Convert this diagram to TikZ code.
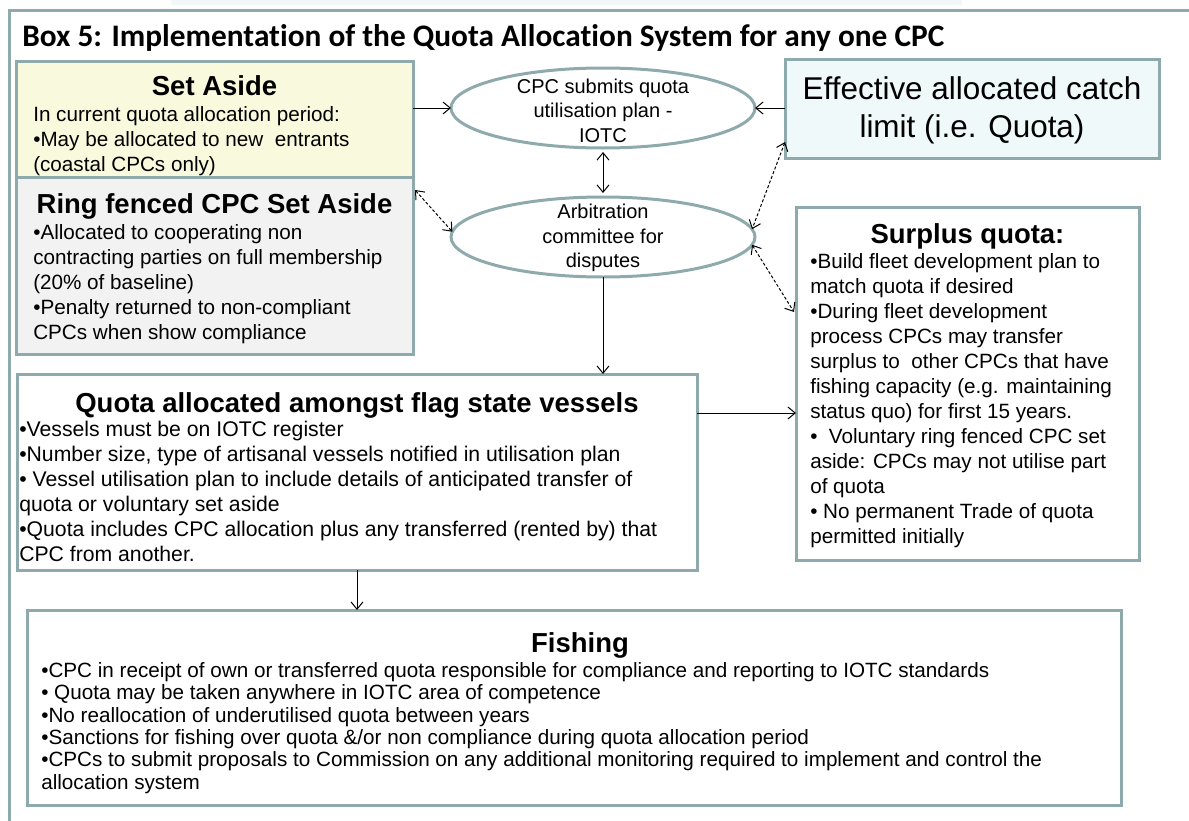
\documentclass[tikz,border=0pt]{standalone}
\usepackage{fontspec}
\setmainfont{Liberation Sans}
\newfontfamily\titlefont[Ligatures=NoCommon]{Carlito}
\usetikzlibrary{arrows.meta,shapes.geometric,calc}
\definecolor{framec}{RGB}{143,170,172}
\definecolor{yelc}{RGB}{249,249,221}
\definecolor{gryc}{RGB}{242,242,242}
\definecolor{cync}{RGB}{240,249,249}
\definecolor{stripc}{RGB}{240,248,248}
\tikzset{
 sz/.style 2 args={minimum width=#1*0.75pt, minimum height=#2*0.75pt},
 panel/.style={draw=framec, line width=2.25pt, rectangle, inner sep=0pt, outer sep=0pt, anchor=north west},
 plan/.style={draw=framec, line width=2.25pt, ellipse, inner sep=0pt, outer sep=0pt, minimum width=304*0.75pt, minimum height=80*0.75pt, fill=white},
 ttl/.style={font=\bfseries\fontsize{20.6pt}{24pt}\selectfont, inner sep=0pt, anchor=base},
 body/.style={font=\fontsize{15.5pt}{18.75pt}\selectfont, align=left, inner sep=0pt, anchor=north west},
 etext/.style={font=\fontsize{15pt}{18.4pt}\selectfont, align=center, inner sep=0pt},
 arr/.style={line width=0.75pt, -{Straight Barb[length=5.5pt,width=9pt]}},
 darr/.style={line width=0.75pt, {Straight Barb[length=5.5pt,width=9pt]}-{Straight Barb[length=5.5pt,width=9pt]}},
 ddarr/.style={darr, dash pattern=on 2.25pt off 1.5pt},
}
\begin{document}
\begin{tikzpicture}[x=0.75pt,y=-0.75pt]
\useasboundingbox (0,0) rectangle (1189,821);
\clip (0,0) rectangle (1189,821);
\fill[white] (0,0) rectangle (1189,821);
\fill[stripc] (171,0) rectangle (962,5);
\draw[framec, line width=2.25pt] (9,10) rectangle (1250,900);

\node[anchor=base west, font=\titlefont\bfseries\fontsize{23.5pt}{28pt}\selectfont, inner sep=0pt] (title) at (22,46) {Box 5: Implementation of the Quota Allocation System for any one CPC};

% Set Aside
\node[panel, fill=yelc, sz={397}{116}] (setaside) at (16,61) {};
\node[ttl] (satitle) at (214.5,95) {Set Aside};
\node[body] (sabody) at (33,106) {In current quota allocation period:\\•May be allocated to new\ \ entrants\\(coastal CPCs only)};

% Ring fenced
\node[panel, fill=gryc, sz={397}{177}] (ring) at (16,177) {};
\node[ttl] (ringtitle) at (214.5,213) {Ring fenced CPC Set Aside};
\node[body] (ringbody) at (33,224) {•Allocated to cooperating non\\contracting parties on full membership\\(20\% of baseline)\\•Penalty returned to non-compliant\\CPCs when show compliance};

% Ellipses
\node[plan] (plan) at (603,108) {};
\node[etext] (plantext) at (603,110.5) {CPC submits quota\\utilisation plan -\\IOTC};
\node[plan] (arb) at (603,237) {};
\node[etext] (arbtext) at (603,238) {Arbitration\\committee for\\disputes};

% Effective
\node[panel, fill=cync, sz={374}{99}] (eff) at (785,59) {};
\node[font=\fontsize{23.6pt}{28.5pt}\selectfont, align=center, inner sep=0pt] (efftext) at (972,110) {Effective allocated catch\\limit (i.e. Quota)};

% Surplus
\node[panel, fill=white, sz={343}{353}] (surplus) at (796,207) {};
\node[ttl] (surtitle) at (967.5,243) {Surplus quota:};
\node[body] (surbody) at (810,253) {•Build fleet development plan to\\match quota if desired\\•During fleet development\\process CPCs may transfer\\surplus to\ \ other CPCs that have\\fishing capacity (e.g. maintaining\\status quo) for first 15 years.\\•\ \ Voluntary ring fenced CPC set\\aside: CPCs may not utilise part\\of quota\\• No permanent Trade of quota\\permitted initially};

% Quota allocated
\node[panel, fill=white, sz={680}{196}] (quota) at (17,374) {};
\node[ttl] (quotatitle) at (357,412) {Quota allocated amongst flag state vessels};
\node[body, font=\fontsize{15.9pt}{18.75pt}\selectfont] (quotabody) at (19,421) {•Vessels must be on IOTC register\\•Number size, type of artisanal vessels notified in utilisation plan\\• Vessel utilisation plan to include details of anticipated transfer of\\quota or voluntary set aside\\•Quota includes CPC allocation plus any transferred (rented by) that\\CPC from another.};

% Fishing
\node[panel, fill=white, sz={1094}{195}] (fishing) at (27,610) {};
\node[ttl] (fishtitle) at (580,652) {Fishing};
\node[body, font=\fontsize{15.5pt}{16.8pt}\selectfont] (fishbody) at (41,662) {•CPC in receipt of own or transferred quota responsible for compliance and reporting to IOTC standards\\• Quota may be taken anywhere in IOTC area of competence\\•No reallocation of underutilised quota between years\\•Sanctions for fishing over quota \&/or non compliance during quota allocation period\\•CPCs to submit proposals to Commission on any additional monitoring required to implement and control the\\allocation system};

% connectors
\coordinate (qy) at (0,413);
\draw[arr] (setaside.east |- plan.west) -- (plan.west);
\draw[arr] (eff.west |- plan.east) -- (plan.east);
\draw[darr, shorten <=3pt, shorten >=3pt] (plan.south) -- (arb.north);
\draw[ddarr] ($(ring.north east)+(2,13)$) -- (arb.178);
\draw[ddarr] ($(eff.south west)+(0,-16)$) -- (arb.3);
\draw[ddarr] (arb.-3) -- ($(surplus.north west)+(-2,105)$);
\draw[arr] (arb.south) -- (arb.south |- quota.north);
\draw[arr] (quota.east |- qy) -- (surplus.west |- qy);
\draw[arr] (quota.south) -- (quota.south |- fishing.north);
\end{tikzpicture}
\end{document}
